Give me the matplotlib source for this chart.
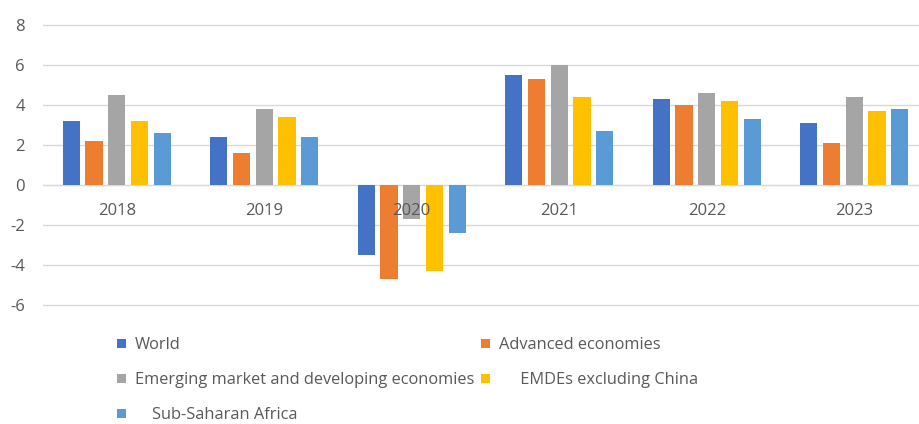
import numpy as np
import matplotlib.pyplot as plt

years = ['2018', '2019', '2020', '2021', '2022', '2023']
world = [3.2, 2.4, -3.5, 5.5, 4.3, 3.1]
advanced = [2.2, 1.6, -4.7, 5.3, 4.0, 2.1]
emde = [4.5, 3.8, -1.7, 6.0, 4.6, 4.4]
emde_ex_china = [3.2, 3.4, -4.3, 4.4, 4.2, 3.7]
ssa = [2.6, 2.4, -2.4, 2.7, 3.3, 3.8]

series = [
    ('World', world, '#4472C4'),
    ('Advanced economies', advanced, '#ED7D31'),
    ('Emerging market and developing economies', emde, '#A5A5A5'),
    ('     EMDEs excluding China', emde_ex_china, '#FFC000'),
    ('    Sub-Saharan Africa', ssa, '#5B9BD5'),
]

plt.rcParams['font.family'] = ['Open Sans', 'DejaVu Sans']
plt.rcParams['axes.unicode_minus'] = False
txt = '#595959'
grid = '#D9D9D9'

fig = plt.figure(figsize=(9.2, 4.24), dpi=100)
# axes runs a little past the right edge, as the last group is clipped
ax = fig.add_axes([43 / 920, 1 - 306.7 / 424, 885 / 920, 284 / 424])

x = np.arange(len(years))
pitch = 0.154
width = 0.117
bars = []
for i, (name, vals, col) in enumerate(series):
    b = ax.bar(x + (i - 2) * pitch, vals, width, color=col, label=name, zorder=2)
    bars.append(b)

ax.set_xlim(-0.5, len(years) - 0.5)
ax.set_ylim(-6.1, 8.1)
ax.set_yticks(range(-6, 9, 2))
ax.yaxis.grid(True, color=grid, linewidth=1)
# grid behind the bars, year labels on top of them
ax.yaxis.set_zorder(0.5)
ax.xaxis.set_zorder(3)
for s in ['top', 'right', 'left']:
    ax.spines[s].set_visible(False)
ax.spines['bottom'].set_position(('data', 0))
ax.spines['bottom'].set_color(grid)
ax.spines['bottom'].set_zorder(1)
ax.set_xticks(x)
ax.set_xticklabels(years)
ax.tick_params(axis='x', length=0, pad=13.5, labelsize=12, labelcolor=txt)
ax.tick_params(axis='y', length=0, pad=13, labelsize=12, labelcolor=txt)

# legend filled column-wise, so order the handles to read across rows
order = [0, 2, 4, 1, 3]
leg = fig.legend([bars[k] for k in order], [series[k][0] for k in order],
                 ncol=2, loc='upper left', bbox_to_anchor=(117 / 920, 1 - 337 / 424),
                 frameon=False, fontsize=11.8, labelcolor=txt,
                 handlelength=0.55, handleheight=0.5, handletextpad=0.55,
                 columnspacing=0.4, labelspacing=1.16, borderaxespad=0, borderpad=0)

fig.savefig('out.png', dpi=100)
